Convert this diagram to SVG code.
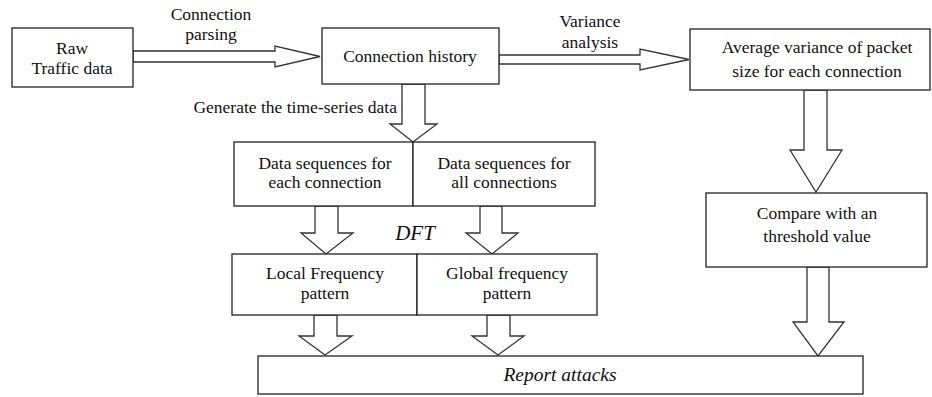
<svg xmlns="http://www.w3.org/2000/svg" width="932" height="397" viewBox="0 0 932 397">
<style>
.box{fill:#fff;stroke:#222;stroke-width:1.3}
.arr{fill:#fff;stroke:#333;stroke-width:1.3;stroke-linejoin:miter}
text{font-family:'Liberation Serif','Tinos','DejaVu Serif',serif;font-size:17.5px;fill:#111;text-anchor:middle}
.it{font-style:italic}
</style>
<rect width="932" height="397" fill="#fff"/>
<g id="connectors">
<polygon class="arr" points="133,51 275,51 275,46 320,56.5 275,67 275,62 133,62"/>
<polygon class="arr" points="499,55 640,55 640,49 689,59.5 640,70 640,64 499,64"/>
<polygon class="arr" points="402,84 402,124 390,124 413,142 437,124 425,124 425,84"/>
<polygon class="arr" points="804,90 804,150 790,150 816,192 842,150 827,150 827,90"/>
<polygon class="arr" points="807,267 807,322 793,322 818,356 844,322 829,322 829,267"/>
<polygon class="arr" points="315,206 315,233 301,233 326,254 353,233 338,233 338,206"/>
<polygon class="arr" points="480,206 480,233 466,233 492,254 518,233 502,233 502,206"/>
<polygon class="arr" points="314,315 314,336 299,336 325,355 352,336 337,336 337,315"/>
<polygon class="arr" points="487,315 487,336 472,336 498,355 524,336 510,336 510,315"/>
<text x="211" y="20">Connection</text>
<text x="211" y="40">parsing</text>
<text x="590" y="27">Variance</text>
<text x="590" y="48">analysis</text>
<text x="397" y="113" style="text-anchor:end">Generate the time-series data</text>
<text class="it" x="415" y="240" style="font-size:21px">DFT</text>
</g>
<g id="raw">
<rect class="box" x="12" y="28" width="121" height="59"/>
<text x="72" y="54">Raw</text>
<text x="72" y="74">Traffic data</text>
</g>
<g id="history">
<rect class="box" x="322" y="28" width="177" height="56"/>
<text x="410" y="62">Connection history</text>
</g>
<g id="average">
<rect class="box" x="690" y="29" width="240" height="61"/>
<text x="817" y="53">Average variance of packet</text>
<text x="817" y="77">size for each connection</text>
</g>
<g id="seq-each">
<rect class="box" x="234" y="142" width="179" height="64"/>
<text x="325" y="169">Data sequences for</text>
<text x="325" y="188">each connection</text>
</g>
<g id="seq-all">
<rect class="box" x="413" y="142" width="182" height="64"/>
<text x="504" y="169">Data sequences for</text>
<text x="504" y="188">all connections</text>
</g>
<g id="local">
<rect class="box" x="232" y="254" width="185" height="61"/>
<text x="325" y="279">Local Frequency</text>
<text x="325" y="299">pattern</text>
</g>
<g id="global">
<rect class="box" x="417" y="254" width="180" height="61"/>
<text x="507" y="279">Global frequency</text>
<text x="507" y="299">pattern</text>
</g>
<g id="compare">
<rect class="box" x="706" y="193" width="221" height="74"/>
<text x="817" y="219">Compare with an</text>
<text x="817" y="242">threshold value</text>
</g>
<g id="report">
<rect class="box" x="258" y="356" width="605" height="38"/>
<text class="it" x="560" y="381" style="font-size:19.5px">Report attacks</text>
</g>
</svg>
